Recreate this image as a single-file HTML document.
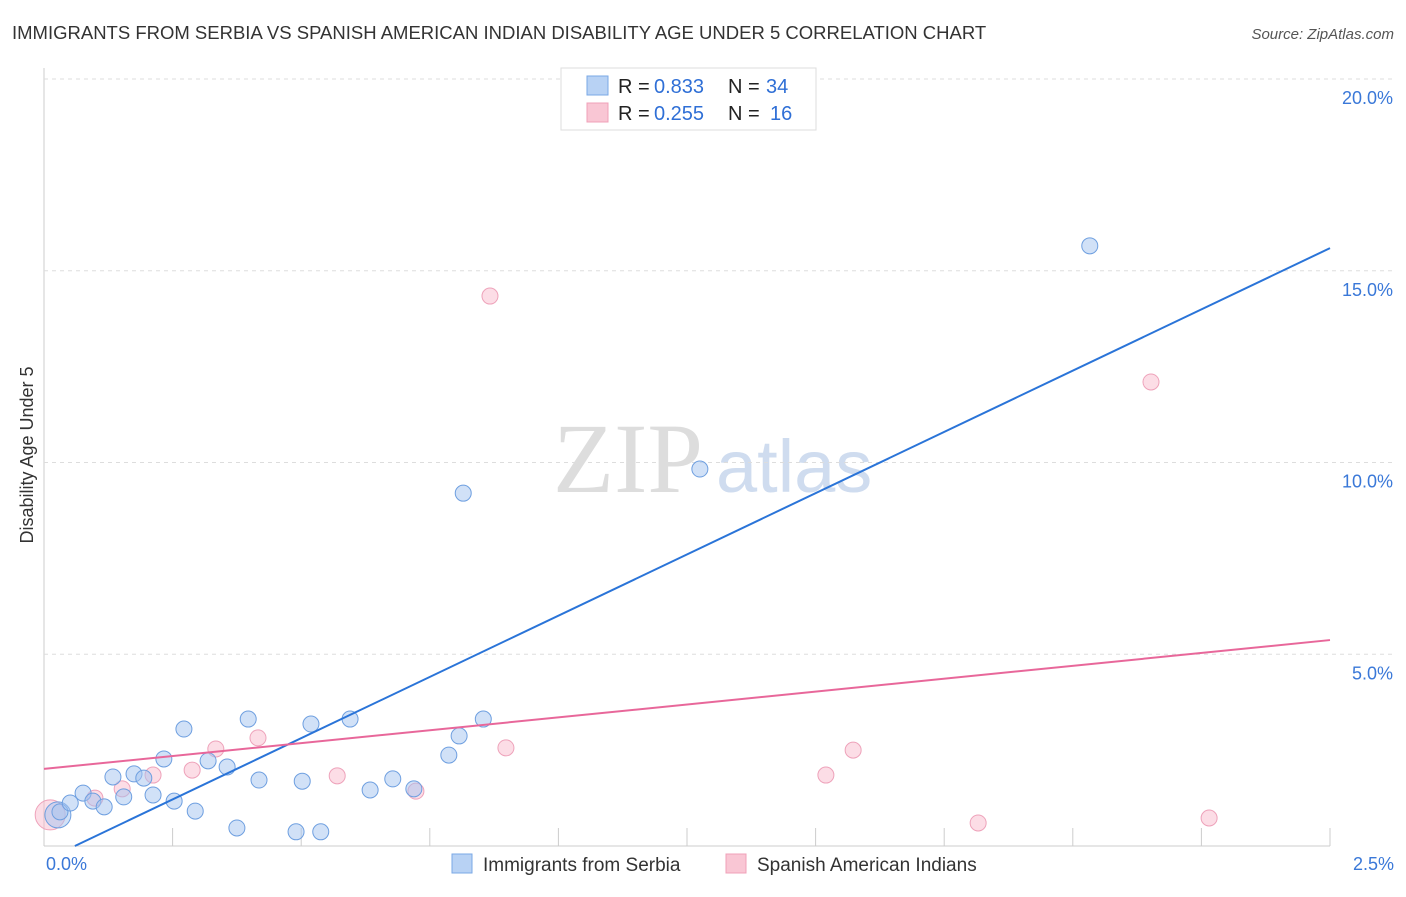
<!DOCTYPE html>
<html><head><meta charset="utf-8">
<style>
body{margin:0;background:#fff;font-family:"Liberation Sans",sans-serif;}
</style></head>
<body>
<svg id="chart" width="1406" height="892" xmlns="http://www.w3.org/2000/svg" font-family="Liberation Sans, sans-serif">
<text x="12" y="39" font-size="18.5" fill="#333">IMMIGRANTS FROM SERBIA VS SPANISH AMERICAN INDIAN DISABILITY AGE UNDER 5 CORRELATION CHART</text>
<text x="1394" y="39" font-size="15" fill="#555" font-style="italic" text-anchor="end">Source: ZipAtlas.com</text>
<text transform="translate(33,455) rotate(-90)" font-size="18" fill="#333" text-anchor="middle">Disability Age Under 5</text>
<text x="553" y="492" font-size="100" fill="#ddd" style="font-family:'Liberation Serif',serif">ZIP</text>
<text x="716" y="492" font-size="74" fill="#cfdcef">atlas</text>
<g id="grid"></g><g id="marks"></g>
<g>
<rect x="561" y="68" width="255" height="62" fill="#fff" stroke="#ddd"/>
<rect x="587" y="76" width="21" height="19" fill="#b8d2f4" stroke="#7aa8e6"/>
<rect x="587" y="103" width="21" height="19" fill="#f9c6d4" stroke="#f0a0b8"/>
<text x="618" y="93" font-size="20" fill="#222">R =</text>
<text x="654" y="93" font-size="20" fill="#2f6fd6">0.833</text>
<text x="728" y="93" font-size="20" fill="#222">N =</text>
<text x="766" y="93" font-size="20" fill="#2f6fd6">34</text>
<text x="618" y="120" font-size="20" fill="#222">R =</text>
<text x="654" y="120" font-size="20" fill="#2f6fd6">0.255</text>
<text x="728" y="120" font-size="20" fill="#222">N =</text>
<text x="770" y="120" font-size="20" fill="#2f6fd6">16</text>
</g>
<g>
<rect x="452" y="854" width="20" height="19" fill="#b8d2f4" stroke="#7aa8e6"/>
<text x="483" y="871" font-size="19" fill="#333">Immigrants from Serbia</text>
<rect x="726" y="854" width="20" height="19" fill="#f9c6d4" stroke="#f0a0b8"/>
<text x="757" y="871" font-size="19" fill="#333">Spanish American Indians</text>
</g>
</svg>
<script>
const blueX=[0.027,0.031,0.051,0.076,0.095,0.117,0.134,0.155,0.175,0.194,0.212,0.233,0.253,0.272,0.294,0.319,0.356,0.375,0.397,0.418,0.490,0.502,0.519,0.538,0.595,0.634,0.678,0.719,0.787,0.807,0.815,0.854,1.275,2.033];
const blueY=[0.81,0.89,1.12,1.38,1.17,1.02,1.80,1.28,1.88,1.77,1.33,2.27,1.17,3.05,0.91,2.22,2.06,0.47,3.31,1.72,0.37,1.69,3.18,0.37,3.31,1.46,1.75,1.49,2.37,2.87,9.20,3.31,9.83,15.65];
const pinkX=[0.012,0.099,0.152,0.212,0.288,0.334,0.416,0.570,0.723,0.867,0.898,1.520,1.573,1.816,2.152,2.265];
const pinkY=[0.81,1.25,1.49,1.85,1.98,2.53,2.82,1.83,1.43,14.34,2.56,1.85,2.50,0.60,12.10,0.73];
const blueLine=[[0.06,0],[2.5,15.59]];
const pinkLine=[[0,2.01],[2.5,5.37]];
const yTicks=[5,10,15,20];
const yTickLabels=["5.0%","10.0%","15.0%","20.0%"];
const xTicks=[0.25,0.5,0.75,1,1.25,1.5,1.75,2,2.25,2.5];
const X0=44,X1=1330,Y0=846,Y1=79;
const sx=v=>X0+(X1-X0)*v/2.5;
const sy=v=>Y0-(Y0-Y1)*v/20;
const NS="http://www.w3.org/2000/svg";
function mk(tag,attrs,parent){const e=document.createElementNS(NS,tag);for(const k in attrs)e.setAttribute(k,attrs[k]);parent.appendChild(e);return e;}
const grid=document.getElementById('grid'),marks=document.getElementById('marks');
let ax=mk('line',{x1:X0,y1:68,x2:X0,y2:Y0,stroke:'#ccc'},grid);


let bx=mk('line',{x1:X0,y1:Y0,x2:X1,y2:Y0,stroke:'#ccc'},grid);


yTicks.forEach((t,i)=>{
 let g=mk('line',{x1:X0,y1:sy(t),x2:1394,y2:sy(t),stroke:'#ddd','stroke-dasharray':'4,4'},grid);
 
 
 let l=mk('text',{x:1393,y:sy(t)+25,'font-size':18,fill:'#3a78d8','text-anchor':'end'},grid);
 l.textContent=yTickLabels[i];
 
 
});
xTicks.forEach(t=>{
 let g=mk('line',{x1:sx(t),y1:Y0-18,x2:sx(t),y2:Y0,stroke:'#ccc'},grid);
 
 
});
let xl0=mk('text',{x:46,y:870,'font-size':18,fill:'#3a78d8'},grid);xl0.textContent='0.0%';


let xl1=mk('text',{x:1394,y:870,'font-size':18,fill:'#3a78d8','text-anchor':'end'},grid);xl1.textContent='2.5%';


pinkX.forEach((x,i)=>{
 let c=mk('circle',{cx:sx(x),cy:sy(pinkY[i]),r:i==0?15:8,fill:'rgba(248,180,200,0.45)',stroke:'#eea2ba','stroke-width':1},marks);
 
 
});
blueX.forEach((x,i)=>{
 let c=mk('circle',{cx:sx(x),cy:sy(blueY[i]),r:i==0?13:8,fill:'rgba(164,196,240,0.5)',stroke:'#6e9fe0','stroke-width':1},marks);
 
 
});
let bl=mk('line',{x1:sx(blueLine[0][0]),y1:sy(blueLine[0][1]),x2:sx(blueLine[1][0]),y2:sy(blueLine[1][1]),stroke:'#2a74d8','stroke-width':2},marks);


let pl=mk('line',{x1:sx(pinkLine[0][0]),y1:sy(pinkLine[0][1]),x2:sx(pinkLine[1][0]),y2:sy(pinkLine[1][1]),stroke:'#e8679a','stroke-width':2},marks);


</script>
</body></html>
